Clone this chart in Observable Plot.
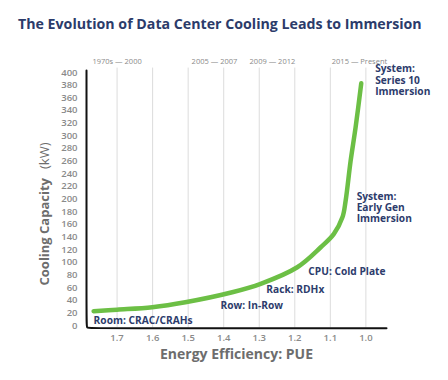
<!DOCTYPE html>
<html>
<head>
<meta charset="utf-8">
<script src="https://cdn.jsdelivr.net/npm/d3@7"></script>
<script src="https://cdn.jsdelivr.net/npm/@observablehq/plot@0.6"></script>
<style>
  html, body { margin: 0; padding: 0; background: #fff; }
  #wrap { width: 448px; height: 380px; overflow: hidden; font-family: "Open Sans", sans-serif; }
  #title { height: 40px; padding-top: 4px; line-height: 40px; padding-left: 18px; font-size: 14.2px; font-weight: 700; color: #2b3b6a; white-space: nowrap; }
  svg { display: block; }
</style>
</head>
<body>
<div id="wrap">
  <div id="title">The Evolution of Data Center Cooling Leads to Immersion</div>
  <div id="chart"></div>
</div>
<script>
// Curve: PUE vs cooling capacity (kW)
const pue      = [1.766, 1.70, 1.601, 1.508, 1.376, 1.296, 1.193, 1.127, 1.090, 1.066, 1.057, 1.043, 1.029, 1.013];
const capacity = [22.6,  25,   28.9,  36.8,  52.6,  65.9,  92.1,  123.7, 144.9, 171,   197,   260,   313,   383];

// X ticks and Y ticks
const xTicks = [1.7, 1.6, 1.5, 1.4, 1.3, 1.2, 1.1, 1.0];
const yTicks = d3.range(0, 401, 20);

// Era labels along the top
const eraLabels = ["1970s — 2000", "2005 — 2007", "2009 — 2012", "2015 — Present"];
const eraPue    = [1.70, 1.426, 1.263, 1.018];

// Annotations
const annoText = ["Room: CRAC/CRAHs", "Row: In-Row", "Rack: RDHx", "CPU: Cold Plate", "System:\nEarly Gen\nImmersion", "System:\nSeries 10\nImmersion"];
const annoPue  = [1.766, 1.409, 1.28, 1.162, 1.026, 0.974];
const annoCap  = [7.9, 31.6, 56.4, 85.8, 186.9, 388];

const xDomain = [1.786, 0.942];
const yDomain = [0, 400];

const curve = pue.map((p, i) => ({pue: p, cap: capacity[i]}));
const eras = eraLabels.map((t, i) => ({t, pue: eraPue[i]}));
const annos = annoText.map((t, i) => ({t, pue: annoPue[i], cap: annoCap[i]}));
const frameLine = [
  {pue: xDomain[0], cap: 403},
  {pue: xDomain[0], cap: 4},
  {pue: xDomain[0], cap: -4.3},
  {pue: xDomain[0] - 0.012, cap: -4.3},
  {pue: xDomain[1], cap: -4.3}
];

const navy = "#2d3c6c";
const gray = "#8a8a8a";

const chart = Plot.plot({
  width: 448,
  height: 336,
  marginTop: 28,
  marginBottom: 55,
  marginLeft: 86,
  marginRight: 62,
  style: {fontFamily: "'Open Sans', sans-serif", overflow: "visible"},
  x: {domain: xDomain},
  y: {domain: yDomain},
  marks: [
    Plot.ruleX(xTicks, {y1: -4, y2: 407, stroke: "#dcdcdc", strokeWidth: 1}),
    Plot.axisX({ticks: xTicks, tickSize: 0, tickPadding: 9, tickFormat: d => d.toFixed(1), fontSize: 9.5, fontWeight: 600, fill: gray, label: null}),
    Plot.axisY({ticks: yTicks, tickSize: 0, tickPadding: 9, fontSize: 9.5, fontWeight: 600, fill: gray, label: null}),
    Plot.text(eras, {x: "pue", text: "t", frameAnchor: "top", dy: -14, fontSize: 7.5, fill: gray}),
    Plot.line(frameLine, {x: "pue", y: "cap", curve: "basis", stroke: "#111", strokeWidth: 2}),
    Plot.line(curve, {x: "pue", y: "cap", curve: "catmull-rom", stroke: "#6cbf45", strokeWidth: 4.5, strokeLinecap: "round"}),
    Plot.text(annos, {x: "pue", y: "cap", text: "t", textAnchor: "start", lineAnchor: "middle", lineHeight: 1.1, fontSize: 10.2, fontWeight: 700, fill: navy}),
    Plot.text(["Energy Efficiency: PUE"], {frameAnchor: "bottom", dy: 33, fontSize: 14, fontWeight: 700, fill: "#6d6d6d"}),
    Plot.text(["Cooling Capacity"], {frameAnchor: "left", dx: -42, dy: 86.5, rotate: -90, textAnchor: "start", fontSize: 13, fontWeight: 700, fill: "#6d6d6d"}),
    Plot.text(["(kW)"], {frameAnchor: "left", dx: -42, dy: -56.5, rotate: -90, textAnchor: "end", fontSize: 13, fontWeight: 400, fill: "#6d6d6d"})
  ]
});
document.getElementById("chart").appendChild(chart);
</script>
</body>
</html>
